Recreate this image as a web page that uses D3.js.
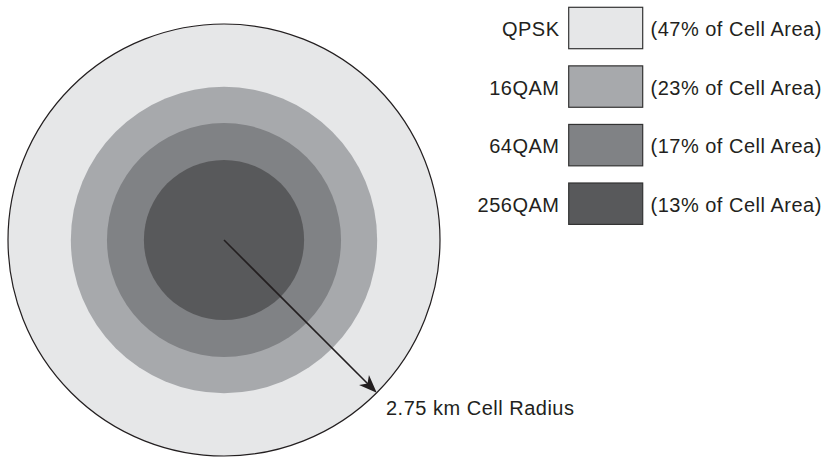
<!doctype html>
<html lang="en">
  <head>
    <meta charset="utf-8">
    <title>Modulation zones in a cell</title>
    <script src="https://d3js.org/d3.v7.min.js"></script>
    <style>
      body { margin: 0; background: #fff; }
      svg { display: block; }
    </style>
  </head>
  <body>
    <div class="chart-container"></div>
    <script type="text/javascript">
    // data
    var schemes = ["QPSK", "16QAM", "64QAM", "256QAM"],
        areaShare = [47, 23, 17, 13],            // % of cell area
        radiusKm = [2.75, 1.95, 1.49, 1.02],     // outer edge of each zone
        cellRadiusKm = 2.75,
        radiusLabel = "2.75 km Cell Radius";

    var width = 827,
        height = 457,
        cx = 224,
        cy = 240;

    const svg = d3.select(".chart-container")
        .append("svg")
        .attr("width", width)
        .attr("height", height)
        .style("font-family", "'Liberation Sans', Arial, Helvetica, sans-serif");

    const r = d3.scaleLinear()
        .domain([0, cellRadiusKm])
        .range([0, 216]);

    const color = d3.scaleOrdinal()
        .domain(schemes)
        .range(["#e6e7e8", "#a7a9ac", "#808285", "#58595b"]);

    // Concentric zones, outermost first
    const gZones = svg.append("g")
        .attr("transform", "translate(" + cx + "," + cy + ")");

    gZones.selectAll("circle")
        .data(schemes)
        .enter()
        .append("circle")
        .attr("r", (d, i) => r(radiusKm[i]))
        .attr("fill", d => color(d))
        .attr("stroke", (d, i) => i === 0 ? "#231f20" : "none")
        .attr("stroke-width", 1.2);

    // Radius arrow at 45 degrees
    var angle = Math.PI / 4,
        tipR = r(cellRadiusKm),
        headLen = 18,
        notch = 13;

    const gArrow = gZones.append("g")
        .attr("transform", "rotate(" + (angle * 180 / Math.PI) + ")");

    gArrow.append("line")
        .attr("x1", 0)
        .attr("y1", 0)
        .attr("x2", tipR - notch + 1)
        .attr("y2", 0)
        .attr("stroke", "#231f20")
        .attr("stroke-width", 1.6);

    gArrow.append("path")
        .attr("d", "M" + tipR + ",0 L" + (tipR - headLen) + ",7 L" + (tipR - notch) + ",0 L" + (tipR - headLen) + ",-7 Z")
        .attr("fill", "#231f20");

    svg.append("text")
        .attr("x", 386)
        .attr("y", 415)
        .attr("font-size", 20)
        .attr("letter-spacing", 0.5)
        .attr("fill", "#231f20")
        .text(radiusLabel);

    // Legend
    var boxW = 74,
        boxH = 41.4,
        boxX = 568.7;

    const y = d3.scalePoint()
        .domain(schemes)
        .range([7.3, 183]);

    const gLegend = svg.append("g");

    const item = gLegend.selectAll("g")
        .data(schemes)
        .enter()
        .append("g")
        .attr("transform", d => "translate(0," + y(d) + ")");

    item.append("rect")
        .attr("x", boxX)
        .attr("y", 0)
        .attr("width", boxW)
        .attr("height", boxH)
        .attr("fill", d => color(d))
        .attr("stroke", "#333")
        .attr("stroke-width", 1.2);

    item.append("text")
        .attr("x", 559.5)
        .attr("y", boxH / 2 + 8.3)
        .attr("text-anchor", "end")
        .attr("font-size", 20)
        .attr("letter-spacing", 0.5)
        .attr("fill", "#231f20")
        .text(d => d);

    item.append("text")
        .attr("x", 650.5)
        .attr("y", boxH / 2 + 8.3)
        .attr("font-size", 20)
        .attr("letter-spacing", 0.5)
        .attr("fill", "#231f20")
        .text((d, i) => "(" + areaShare[i] + "% of Cell Area)");
    </script>
  </body>
</html>
